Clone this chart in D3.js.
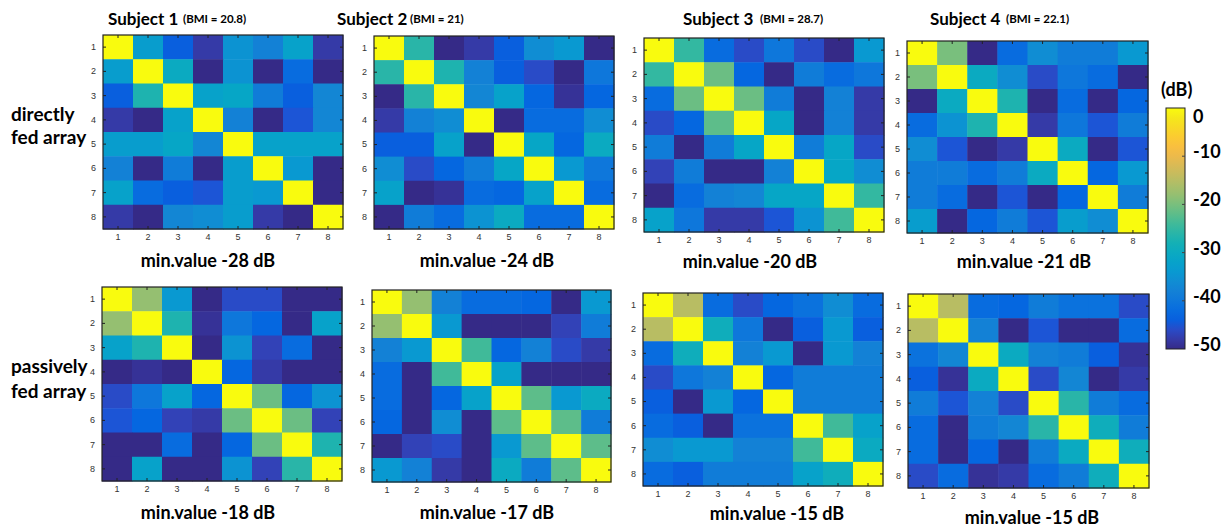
<!DOCTYPE html>
<html>
<head>
<meta charset="utf-8">
<title>Coupling matrices</title>
<script src="https://d3js.org/d3.v7.min.js"></script>
<style>
  body { margin: 0; background: #fff; }
  svg { display: block; font-family: Lato, "Open Sans", sans-serif; }
  .tick text { fill: #333; font-size: 9px; font-family: Arial, "Liberation Sans", sans-serif; }
  .tick line { stroke: #222; }
</style>
</head>
<body>
<svg id="chart" width="1226" height="528"></svg>
<script>
// channel index (1..8) on both axes
var channels = [1, 2, 3, 4, 5, 6, 7, 8];

var subjects = ["Subject 1", "Subject 2", "Subject 3", "Subject 4"];
var bmi = ["(BMI = 20.8)", "(BMI = 21)", "(BMI = 28.7)", "(BMI = 22.1)"];
var rowNames = [["directly", "fed array"], ["passively", "fed array"]];
var minValues = [-28, -24, -20, -21, -18, -17, -15, -15];
var cbTicks = [0, -10, -20, -30, -40, -50];

// coupling in dB, row i = y channel, col j = x channel
var s1Direct = [
  [0, -33, -44, -48, -35, -38, -32, -48],
  [-33, 0, -30, -50, -35, -50, -42, -50],
  [-44, -27, 0, -32, -31, -39, -44, -37],
  [-48, -50, -32, 0, -38, -50, -45, -37],
  [-33, -33, -31, -37, 0, -32, -32, -32],
  [-38, -50, -39, -50, -33, 0, -34, -50],
  [-32, -42, -44, -45, -33, -34, 0, -50],
  [-48, -50, -37, -36, -33, -48, -50, 0]
];
var s2Direct = [
  [0, -26, -50, -48, -44, -36, -34, -50],
  [-26, 0, -27, -38, -44, -46, -50, -40],
  [-50, -26, 0, -37, -32, -43, -49, -43],
  [-48, -38, -36, 0, -50, -42, -42, -36],
  [-44, -44, -32, -50, 0, -31, -43, -30],
  [-36, -46, -43, -39, -31, 0, -34, -40],
  [-32, -50, -49, -42, -43, -32, 0, -42],
  [-50, -39, -42, -35, -30, -42, -42, 0]
];
var s3Direct = [
  [0, -25, -42, -46, -40, -46, -50, -34],
  [-25, 0, -21, -43, -50, -39, -42, -40],
  [-42, -21, 0, -21, -39, -50, -38, -48],
  [-46, -43, -22, 0, -31, -50, -38, -48],
  [-39, -50, -39, -31, 0, -39, -31, -46],
  [-47, -39, -50, -50, -38, 0, -31, -36],
  [-50, -42, -38, -37, -31, -31, 0, -25],
  [-32, -40, -48, -48, -45, -35, -24, 0]
];
var s4Direct = [
  [0, -20, -50, -42, -36, -39, -39, -34],
  [-20, 0, -30, -36, -46, -40, -42, -50],
  [-50, -30, 0, -27, -50, -42, -50, -43],
  [-42, -35, -27, 0, -48, -40, -45, -39],
  [-36, -45, -50, -48, 0, -30, -50, -45],
  [-39, -39, -42, -39, -30, 0, -43, -34],
  [-39, -42, -50, -45, -50, -43, 0, -39],
  [-33, -50, -43, -39, -45, -33, -36, 0]
];
var s1Passive = [
  [0, -18, -34, -50, -46, -46, -50, -50],
  [-18, 0, -27, -49, -40, -43, -50, -32],
  [-32, -27, 0, -50, -35, -47, -42, -50],
  [-50, -49, -50, 0, -43, -48, -50, -50],
  [-46, -40, -32, -43, 0, -21, -43, -35],
  [-45, -43, -47, -48, -21, 0, -21, -47],
  [-50, -50, -42, -50, -43, -21, 0, -27],
  [-50, -32, -50, -50, -35, -47, -26, 0]
];
var s2Passive = [
  [0, -18, -38, -42, -42, -43, -50, -34],
  [-18, 0, -34, -50, -50, -50, -47, -39],
  [-38, -34, 0, -24, -43, -38, -46, -48],
  [-42, -50, -24, 0, -32, -50, -50, -50],
  [-42, -50, -43, -32, 0, -22, -34, -30],
  [-43, -50, -36, -50, -22, 0, -22, -39],
  [-50, -47, -46, -50, -34, -22, 0, -22],
  [-34, -38, -48, -50, -30, -39, -22, 0]
];
var s3Passive = [
  [0, -15, -42, -46, -43, -41, -36, -42],
  [-15, 0, -29, -40, -50, -44, -34, -44],
  [-42, -29, 0, -38, -34, -50, -34, -38],
  [-46, -40, -38, 0, -43, -39, -39, -39],
  [-44, -50, -34, -43, 0, -39, -39, -39],
  [-42, -44, -50, -41, -41, 0, -24, -32],
  [-36, -34, -34, -38, -38, -24, 0, -30],
  [-42, -44, -39, -39, -39, -32, -29, 0]
];
var s4Passive = [
  [0, -15, -42, -43, -39, -41, -41, -46],
  [-15, 0, -38, -50, -45, -50, -50, -42],
  [-41, -37, 0, -30, -38, -39, -44, -49],
  [-44, -49, -30, 0, -46, -37, -50, -48],
  [-39, -45, -38, -46, 0, -26, -39, -42],
  [-42, -50, -39, -37, -26, 0, -29, -39],
  [-42, -50, -43, -50, -39, -30, 0, -29],
  [-46, -42, -49, -48, -42, -39, -29, 0]
];
var matrices = [s1Direct, s2Direct, s3Direct, s4Direct,
                s1Passive, s2Passive, s3Passive, s4Passive];

// parula colormap samples (index out of 63)
var parula = [
  [0, [0.2081, 0.1663, 0.5292]], [2, [0.2123, 0.2138, 0.6270]],
  [4, [0.1959, 0.2645, 0.7279]], [6, [0.1253, 0.3242, 0.8303]],
  [8, [0.0117, 0.3875, 0.8820]], [12, [0.0498, 0.4586, 0.8641]],
  [16, [0.0793, 0.5200, 0.8312]], [20, [0.0343, 0.5966, 0.8199]],
  [24, [0.0228, 0.6535, 0.7768]], [28, [0.0843, 0.6928, 0.7062]],
  [32, [0.2178, 0.7250, 0.6193]], [36, [0.3953, 0.7459, 0.5244]],
  [40, [0.5709, 0.7485, 0.4494]], [44, [0.7184, 0.7411, 0.3905]],
  [48, [0.8507, 0.7299, 0.3360]], [52, [0.9738, 0.7314, 0.2666]],
  [56, [0.9880, 0.8066, 0.1794]], [60, [0.9589, 0.8949, 0.1132]],
  [63, [0.9763, 0.9831, 0.0538]]
];

var color = d3.scaleLinear()
    .domain(parula.map(function(p) { return -50 + 50 * p[0] / 63; }))
    .range(parula.map(function(p) { return d3.rgb(p[1][0]*255, p[1][1]*255, p[1][2]*255); }))
    .interpolate(d3.interpolateRgb)
    .clamp(true);

// panel boxes [left, top, right, bottom] and label centres
var panels = [
  {box: [103, 35, 343, 229], lab: [208, 267]},
  {box: [374, 36, 614, 229], lab: [487, 267]},
  {box: [644, 38, 884, 232], lab: [750, 268]},
  {box: [907, 41, 1148, 233], lab: [1024, 268]},
  {box: [102, 287, 342, 481], lab: [208, 519]},
  {box: [372, 290, 611, 482], lab: [487, 519]},
  {box: [643, 293, 883, 486], lab: [777, 520]},
  {box: [908, 294, 1149, 488], lab: [1032, 524]}
];
var titlePos = [[108, 183], [337, 410], [683, 760], [930, 1006]];

var svg = d3.select("#chart");

panels.forEach(function(p, k) {
  var b = p.box, w = b[2] - b[0], h = b[3] - b[1];
  var x = d3.scaleBand().domain(channels).range([0, w]);
  var y = d3.scaleBand().domain(channels).range([0, h]);
  var g = svg.append("g").attr("transform", "translate(" + b[0] + "," + b[1] + ")");

  var cells = [];
  matrices[k].forEach(function(row, i) {
    row.forEach(function(v, j) { cells.push({r: channels[i], c: channels[j], v: v}); });
  });
  g.selectAll("rect.cell").data(cells).enter().append("rect")
      .attr("class", "cell")
      .attr("x", function(d) { return x(d.c); })
      .attr("y", function(d) { return y(d.r); })
      .attr("width", x.bandwidth() + 0.5)
      .attr("height", y.bandwidth() + 0.5)
      .attr("fill", function(d) { return color(d.v); });

  // matlab style: ticks point inward on all four sides
  g.append("g").attr("transform", "translate(0," + h + ")")
      .call(d3.axisBottom(x).tickSize(-3).tickPadding(5));
  g.append("g").call(d3.axisLeft(y).tickSize(-3).tickPadding(7));
  g.append("g").call(d3.axisTop(x).tickSize(-3).tickFormat(""));
  g.append("g").attr("transform", "translate(" + w + ",0)")
      .call(d3.axisRight(y).tickSize(-3).tickFormat(""));
  g.selectAll(".domain").remove();

  g.append("rect").attr("width", w).attr("height", h)
      .attr("fill", "none").attr("stroke", "#222").attr("stroke-width", 1.2);

  svg.append("text")
      .attr("x", p.lab[0]).attr("y", p.lab[1])
      .attr("text-anchor", "middle")
      .style("font-size", "18px").style("font-weight", 700)
      .text("min.value " + minValues[k] + " dB");
});

subjects.forEach(function(s, i) {
  svg.append("text").attr("x", titlePos[i][0]).attr("y", 25)
      .style("font-size", "17px").style("font-weight", 700).text(s);
  svg.append("text").attr("x", titlePos[i][1]).attr("y", 23)
      .style("font-size", "11.5px").style("font-weight", 700).text(bmi[i]);
});

var rowBase = [[121, 144], [373, 398]];
rowNames.forEach(function(lines, r) {
  lines.forEach(function(t, i) {
    svg.append("text").attr("x", 11).attr("y", rowBase[r][i])
        .style("font-size", "19px").style("font-weight", 700).text(t);
  });
});

// colorbar
var cb = {x: 1166, y0: 108, y1: 349, w: 19};
var cy = d3.scaleLinear().domain([0, -50]).range([cb.y0, cb.y1]);
var grad = svg.append("defs").append("linearGradient")
    .attr("id", "cbgrad").attr("x1", 0).attr("x2", 0).attr("y1", 1).attr("y2", 0);
d3.range(0, 51, 2).forEach(function(i) {
  grad.append("stop").attr("offset", i / 50).attr("stop-color", color(-50 + i));
});
svg.append("rect").attr("x", cb.x).attr("y", cb.y0)
    .attr("width", cb.w).attr("height", cb.y1 - cb.y0)
    .attr("fill", "url(#cbgrad)").attr("stroke", "#222").attr("stroke-width", 1);
svg.selectAll("line.cbtick").data(cbTicks.slice(1, 5)).enter().append("line")
    .attr("x1", cb.x + cb.w - 3).attr("x2", cb.x + cb.w)
    .attr("y1", function(d) { return cy(d); }).attr("y2", function(d) { return cy(d); })
    .attr("stroke", "#444");
svg.selectAll("text.cblab").data(cbTicks).enter().append("text")
    .attr("x", cb.x + cb.w + 8)
    .attr("y", function(d) { return d === 0 ? cy(d) + 15 : cy(d) + 2; })
    .style("font-size", "18px").style("font-weight", 700)
    .text(function(d) { return d; });
svg.append("text").attr("x", 1161).attr("y", 96)
    .style("font-size", "18px").style("font-weight", 700).text("(dB)");
</script>
</body>
</html>
